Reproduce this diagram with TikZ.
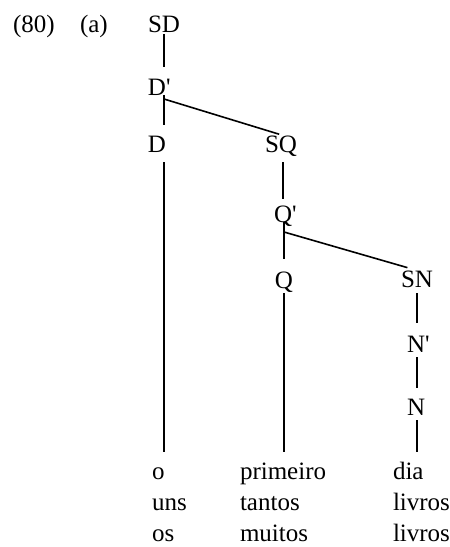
\documentclass[tikz,border=0pt]{standalone}
\usepackage{fontspec}
\newfontfamily\treefont{Liberation Serif}
\begin{document}
\begin{tikzpicture}[x=0.5pt,y=-0.5pt,
  font=\treefont\fontsize{12.5}{15}\selectfont,
  cat/.style={inner sep=0pt, outer sep=0pt, anchor=base, text height=8.3pt, text depth=0pt},
  catw/.style={cat, anchor=base west},
  leaf/.style={inner sep=0pt, outer sep=0pt, anchor=base west, text height=5.6pt, text depth=0pt},
  lbl/.style={inner sep=0pt, outer sep=0pt, anchor=base west},
  branch/.style={line width=0.8pt}]
\useasboundingbox (0,0) rectangle (450,547);
% labels
\node[lbl] (ex) at (13,32) {(80)};
\node[lbl] (sub) at (80,32) {(a)};
% categories
\node[cat] (SD) at (164,32) {SD};
\node[catw] (Dp) at (148,95) {D'};
\node[catw] (D) at (148,152) {D};
\node[cat] (SQ) at (281,152) {SQ};
\node[catw] (Qp) at (274,222) {Q'};
\node[cat] (Q) at (284,288) {Q};
\node[cat] (SN) at (417,287) {SN};
\node[catw] (Np) at (407,352) {N'};
\node[catw] (N) at (407,415) {N};
\coordinate (c1) at (164,99);
\coordinate (c2) at (284,232);
% leaves
\node[leaf] (o) at (152,479) {o};
\node[leaf] (uns) at (152,510) {uns};
\node[leaf] (os) at (152,541) {os};
\node[leaf] (prim) at (240,479) {primeiro};
\node[leaf] (tantos) at (240,510) {tantos};
\node[leaf] (muitos) at (240,541) {muitos};
\node[leaf] (dia) at (393,479) {dia};
\node[leaf] (livA) at (393,510) {livros};
\node[leaf] (livB) at (393,541) {livros};
% branches
\draw[branch, shorten <=1pt, shorten >=5.5pt] (SD.south) -- (SD.south |- Dp.north);
\draw[branch] (c1 |- Dp.south) -- (c1);
\draw[branch, shorten >=5pt] (c1) -- (c1 |- D.north);
\draw[branch, shorten >=2pt] (c1) -- ([xshift=1pt]SQ.north);
\draw[branch, shorten <=5pt, shorten >=8pt] (c1 |- D.south) -- (c1 |- o.north);
\draw[branch, shorten <=5pt, shorten >=3pt] ([xshift=1pt]SQ.south) -- ([xshift=1pt]SQ.south |- Qp.north);
\draw[branch] (c2 |- Qp.south) -- (c2);
\draw[branch, shorten >=6pt] (c2) -- (c2 |- Q.north);
\draw[branch, shorten >=5pt] (c2) -- (SN.north);
\draw[branch, shorten <=2.5pt, shorten >=8pt] (Q.south) -- (Q.south |- prim.north);
\draw[branch, shorten <=3pt, shorten >=6pt] (SN.south) -- (SN.south |- Np.north);
\draw[branch, shorten <=2.5pt, shorten >=5pt] (SN.south |- Np.south) -- (SN.south |- N.north);
\draw[branch, shorten <=2.5pt, shorten >=8pt] (SN.south |- N.south) -- (SN.south |- dia.north);
\end{tikzpicture}
\end{document}
